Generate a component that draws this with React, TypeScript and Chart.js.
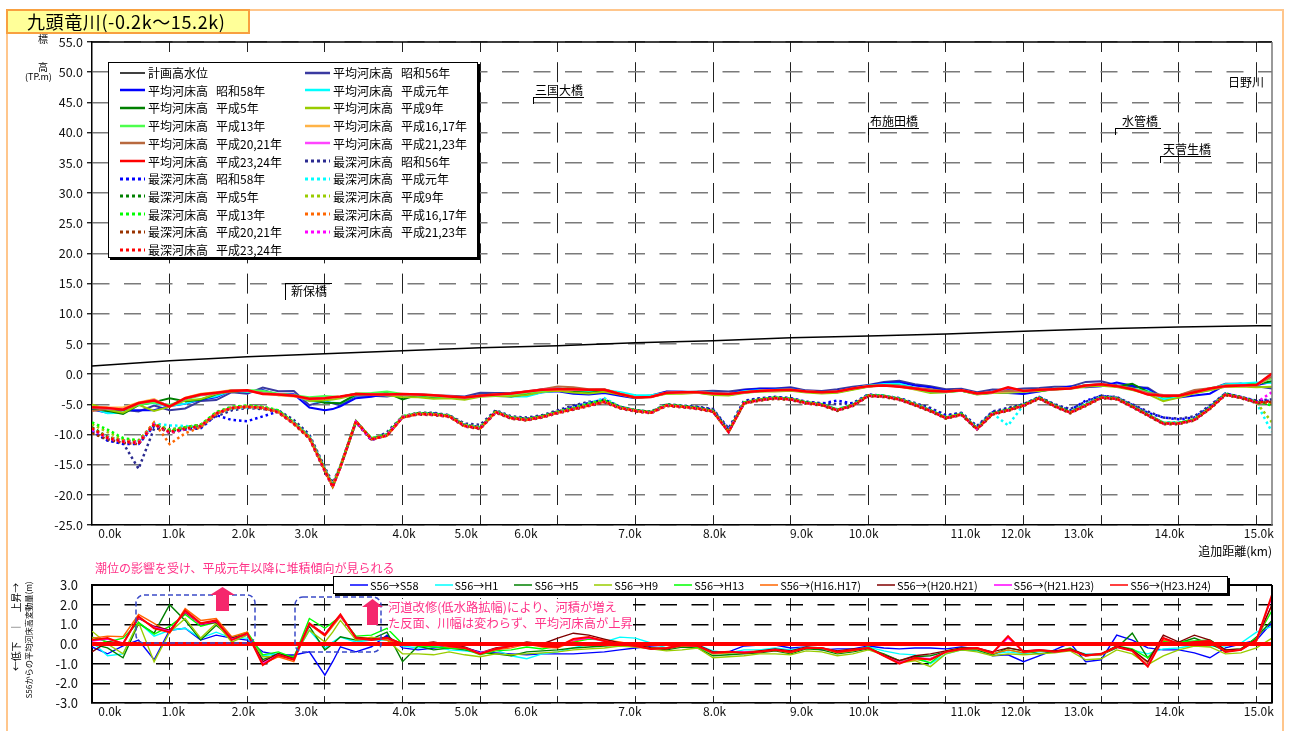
import React, { useEffect, useRef } from 'react';
import { Chart, registerables } from 'chart.js';
Chart.register(...registerables);

const FONT = '"Noto Sans CJK JP", "Noto Sans", sans-serif';

// ---- cross-section positions (追加距離, km) ----
const sectionKm = [
  0, 0.2, 0.4, 0.6, 0.8, 1.0, 1.2, 1.4, 1.6, 1.8,
  2.0, 2.2, 2.4, 2.6, 2.8, 3.0, 3.1, 3.2, 3.4, 3.6, 3.8,
  4.0, 4.2, 4.4, 4.6, 4.8, 5.0, 5.2, 5.4, 5.6, 5.8,
  6.0, 6.2, 6.4, 6.6, 6.8, 7.0, 7.2, 7.4, 7.6, 7.8,
  8.0, 8.2, 8.4, 8.6, 8.8, 9.0, 9.2, 9.4, 9.6, 9.8,
  10.0, 10.2, 10.4, 10.6, 10.8, 11.0, 11.2, 11.4, 11.6, 11.8,
  12.0, 12.2, 12.4, 12.6, 12.8, 13.0, 13.2, 13.4, 13.6, 13.8,
  14.0, 14.2, 14.4, 14.6, 14.8, 15.0, 15.2,
];

// distance-marker tick labels
const kmTickPos = [0.23, 1.05, 1.95, 2.76, 4.02, 4.82, 5.59, 6.93, 8.02, 9.14, 9.94, 11.25, 11.9, 12.71, 13.88, 15.03];
const kmTickLabels = ['0.0k', '1.0k', '2.0k', '3.0k', '4.0k', '5.0k', '6.0k', '7.0k', '8.0k', '9.0k', '10.0k', '11.0k', '12.0k', '13.0k', '14.0k', '15.0k'];
const gridKm = [1, 2, 3, 4, 5, 6, 7, 8, 9, 10, 11, 12, 13, 14, 15];

// 計画高水位
const planKm = [0, 1, 2, 3, 4, 5, 6, 7, 8, 9, 10, 11, 12, 13, 14, 15, 15.2];
const planLevel = [1.35, 2.2, 2.85, 3.35, 3.85, 4.35, 4.7, 5.2, 5.5, 6.0, 6.3, 6.65, 7.1, 7.5, 7.8, 8.0, 8.0];

// ---- 平均河床高 ----
const avgS56 = [
  -5.7, -5.9, -5.9, -6.2, -5.2, -6.0, -5.7, -4.45, -4.3, -3.0,
  -3.25, -2.23, -2.84, -2.8, -5.15, -4.45, -4.85, -5.2, -3.6, -3.6, -3.7,
  -3.3, -3.35, -3.55, -3.6, -3.7, -3.1, -3.15, -3.1, -2.95, -2.5,
  -2.35, -2.75, -2.95, -2.75, -3.3, -3.8, -3.55, -2.9, -2.95, -2.9,
  -2.75, -2.9, -2.55, -2.4, -2.4, -2.2, -2.7, -2.8, -2.5, -2.1,
  -1.8, -1.3, -1.1, -1.7, -2.0, -2.5, -2.45, -3.0, -2.55, -2.6,
  -2.4, -2.3, -2.1, -2.1, -1.3, -1.2, -1.85, -2.15, -2.25, -3.9,
  -3.6, -3.1, -2.55, -1.6, -1.6, -2.0, -2.4,
];
const avgS58 = [
  -5.85, -6.4, -6.0, -6.0, -6.0, -5.3, -4.9, -4.25, -3.85, -2.7,
  -3.05, -2.63, -3.4, -3.36, -5.55, -6.0, -5.8, -5.34, -4.0, -3.74, -3.25,
  -3.5, -3.65, -3.75, -3.7, -3.9, -3.5, -3.6, -3.6, -3.5, -3.0,
  -2.85, -3.25, -3.4, -3.15, -3.6, -4.0, -3.65, -2.95, -2.95, -3.05,
  -3.15, -3.3, -2.65, -2.45, -2.45, -2.4, -2.85, -3.1, -2.75, -2.35,
  -1.9, -1.5, -1.35, -1.9, -2.2, -2.75, -2.6, -3.25, -3.15, -3.15,
  -3.3, -2.9, -2.4, -2.05, -2.2, -2.0, -1.4, -1.95, -2.45, -4.2,
  -3.9, -3.55, -3.25, -1.8, -1.6, -1.8, -1.3,
];
const avgH1 = [
  -5.6, -6.5, -6.4, -5.1, -4.8, -5.3, -4.9, -4.15, -3.7, -2.7,
  -2.95, -2.83, -3.34, -3.5, -4.45, -4.65, -4.75, -4.85, -3.5, -3.4, -3.5,
  -3.4, -3.55, -3.65, -3.9, -4.05, -3.55, -3.45, -3.7, -3.7, -3.0,
  -2.75, -2.95, -2.95, -2.65, -2.95, -3.5, -3.5, -3.1, -3.05, -2.95,
  -3.1, -3.35, -2.85, -2.7, -2.6, -2.5, -2.85, -3.05, -2.85, -2.4,
  -1.95, -1.65, -1.6, -2.25, -3.0, -3.0, -2.75, -3.35, -3.05, -3.0,
  -2.9, -2.7, -2.45, -2.4, -1.8, -1.75, -2.0, -2.45, -2.75, -4.15,
  -3.8, -3.15, -2.65, -1.7, -1.55, -1.4, -1.5,
];
const avgH5 = [
  -5.7, -6.1, -6.6, -5.15, -4.65, -4.0, -4.5, -4.25, -3.35, -2.7,
  -2.8, -3.03, -3.34, -3.45, -4.25, -4.75, -4.8, -4.83, -3.4, -3.35, -3.1,
  -4.2, -3.45, -3.85, -3.8, -4.0, -3.55, -3.65, -3.7, -3.35, -2.85,
  -2.65, -2.95, -3.1, -2.85, -3.35, -3.9, -3.75, -3.2, -3.1, -3.1,
  -3.35, -3.45, -3.05, -2.85, -2.75, -2.7, -2.95, -3.1, -3.0, -2.5,
  -2.05, -1.8, -1.95, -2.35, -2.6, -2.9, -2.75, -3.3, -3.1, -2.8,
  -2.75, -2.8, -2.5, -2.4, -1.85, -1.75, -2.05, -1.6, -2.95, -3.8,
  -3.55, -2.8, -2.55, -1.95, -1.9, -1.65, -1.2,
];
const avgH9 = [
  -5.05, -5.9, -6.4, -5.1, -6.1, -5.4, -4.4, -4.15, -3.25, -2.9,
  -2.8, -2.88, -3.49, -3.45, -4.45, -4.35, -4.2, -4.0, -3.4, -3.25, -3.5,
  -3.8, -3.85, -4.1, -4.0, -4.25, -3.75, -3.65, -3.65, -3.45, -2.95,
  -2.75, -3.05, -3.2, -2.95, -3.4, -3.95, -3.8, -3.25, -3.25, -3.1,
  -3.45, -3.55, -3.15, -2.9, -2.9, -2.75, -3.05, -3.2, -3.1, -2.6,
  -2.1, -1.85, -2.05, -2.55, -3.15, -3.0, -2.75, -3.4, -3.15, -3.1,
  -2.95, -2.8, -2.55, -2.45, -2.1, -1.95, -2.15, -2.65, -3.3, -4.5,
  -3.9, -3.2, -2.7, -2.1, -2.05, -2.2, -2.1,
];
const avgH13 = [
  -5.35, -5.8, -5.6, -5.1, -4.7, -5.1, -4.2, -3.55, -3.2, -2.7,
  -2.65, -2.78, -3.24, -3.5, -3.85, -3.65, -3.7, -3.8, -3.2, -3.15, -2.9,
  -3.3, -3.45, -3.7, -3.8, -3.95, -3.65, -3.5, -3.4, -3.1, -2.75,
  -2.45, -2.65, -2.7, -2.55, -3.25, -3.85, -3.75, -3.1, -3.0, -3.05,
  -3.25, -3.35, -3.0, -2.8, -2.7, -2.65, -2.9, -3.0, -2.95, -2.45,
  -1.95, -1.85, -1.95, -2.45, -2.95, -2.85, -2.65, -3.25, -3.05, -2.9,
  -2.85, -2.65, -2.5, -2.3, -1.9, -1.7, -1.95, -2.4, -2.95, -3.75,
  -3.5, -2.95, -2.35, -1.9, -1.85, -1.7, -0.7,
];
const avgH16 = [
  -5.4, -5.5, -5.53, -4.7, -4.15, -5.45, -3.9, -3.25, -3.0, -2.63,
  -2.65, -3.23, -3.49, -3.7, -4.15, -4.05, -3.9, -3.8, -3.25, -3.3, -3.5,
  -3.35, -3.4, -3.55, -3.75, -3.9, -3.6, -3.45, -3.3, -2.95, -2.65,
  -2.55, -2.6, -2.65, -2.55, -3.2, -3.85, -3.75, -3.15, -3.05, -3.0,
  -3.25, -3.35, -2.95, -2.75, -2.7, -2.65, -2.9, -3.0, -2.95, -2.45,
  -2.0, -1.9, -2.0, -2.5, -2.75, -2.9, -2.7, -3.25, -3.05, -2.9,
  -2.85, -2.65, -2.45, -2.35, -1.85, -1.75, -2.0, -2.45, -3.2, -3.7,
  -3.55, -3.05, -2.45, -1.95, -1.9, -1.85, -0.4,
];
const avgH20 = [
  -6.1, -5.8, -5.85, -4.9, -4.3, -5.3, -4.1, -3.45, -3.2, -2.7,
  -2.75, -3.13, -3.34, -3.55, -4.15, -3.95, -3.85, -3.75, -3.25, -3.35, -3.35,
  -3.3, -3.35, -3.45, -3.65, -3.85, -3.55, -3.35, -3.2, -2.85, -2.5,
  -2.05, -2.2, -2.5, -2.5, -3.25, -3.85, -3.75, -3.15, -3.0, -2.95,
  -3.15, -3.3, -3.0, -2.75, -2.65, -2.55, -2.85, -3.0, -2.85, -2.35,
  -2.0, -1.85, -1.95, -2.3, -2.5, -2.85, -2.65, -3.2, -2.95, -2.8,
  -2.75, -2.6, -2.45, -2.35, -1.85, -1.7, -1.95, -2.45, -3.15, -3.45,
  -3.5, -2.65, -2.35, -1.9, -1.85, -1.75, -0.4,
];
const avgH21 = [
  -5.55, -5.65, -5.85, -4.85, -4.35, -5.35, -4.05, -3.45, -3.15, -2.75,
  -2.75, -3.23, -3.39, -3.6, -4.15, -3.95, -3.85, -3.75, -3.3, -3.4, -3.4,
  -3.3, -3.4, -3.5, -3.7, -3.9, -3.65, -3.4, -3.2, -2.9, -2.6,
  -2.45, -2.55, -2.65, -2.6, -3.3, -3.9, -3.8, -3.1, -3.0, -3.0,
  -3.2, -3.3, -3.05, -2.8, -2.7, -2.6, -2.9, -3.0, -2.9, -2.4,
  -2.0, -1.9, -2.05, -2.4, -2.75, -2.9, -2.7, -3.2, -3.0, -2.3,
  -2.8, -2.6, -2.5, -2.4, -1.9, -1.7, -2.0, -2.5, -3.35, -3.6,
  -3.6, -3.0, -2.4, -2.0, -1.9, -1.8, 0.0,
];
const avgH23 = [
  -5.5, -5.6, -5.9, -4.8, -4.4, -5.4, -4.0, -3.4, -3.1, -2.8,
  -2.7, -3.3, -3.4, -3.6, -4.1, -4.0, -3.85, -3.7, -3.3, -3.4, -3.4,
  -3.3, -3.4, -3.5, -3.7, -3.9, -3.6, -3.4, -3.2, -2.9, -2.6,
  -2.5, -2.5, -2.6, -2.6, -3.3, -3.9, -3.8, -3.1, -3.0, -3.0,
  -3.2, -3.3, -3.0, -2.8, -2.7, -2.6, -2.9, -3.0, -2.9, -2.4,
  -2.0, -1.9, -2.1, -2.4, -2.8, -2.9, -2.7, -3.2, -3.0, -2.2,
  -2.8, -2.6, -2.5, -2.4, -1.9, -1.7, -2.0, -2.5, -3.4, -3.6,
  -3.6, -3.0, -2.4, -2.0, -1.9, -1.8, 0.1,
];

// ---- 最深河床高 ----
const deepS56 = [
  -9.6, -11.0, -11.4, -15.7, -9.0, -9.2, -8.8, -8.4, -7.0, -6.0,
  -5.6, -5.8, -6.0, -7.6, -10.0, -15.5, -18.0, -15.2, -8.0, -11.0, -9.6,
  -7.0, -6.4, -6.4, -6.8, -8.2, -8.4, -6.0, -7.0, -7.2, -6.8,
  -6.0, -5.2, -4.6, -4.4, -5.4, -6.0, -6.2, -5.0, -5.2, -5.4,
  -5.8, -9.0, -4.4, -4.0, -3.8, -4.0, -4.6, -4.8, -5.0, -4.8,
  -3.4, -3.6, -4.0, -4.8, -5.6, -6.8, -6.4, -8.6, -6.2, -5.6,
  -5.0, -3.8, -5.0, -5.8, -4.6, -3.6, -3.8, -5.0, -6.2, -7.2,
  -7.4, -7.0, -5.2, -3.2, -3.8, -4.4, -4.2,
];
const deepS58 = [
  -9.4, -11.0, -11.6, -11.6, -8.6, -9.4, -9.2, -9.0, -6.8, -7.6,
  -7.8, -7.0, -6.2, -8.0, -10.4, -15.8, -18.4, -15.2, -7.8, -10.8, -10.0,
  -7.2, -6.5, -6.5, -6.9, -8.4, -8.8, -6.2, -7.2, -7.4, -7.0,
  -6.2, -5.4, -4.8, -4.2, -5.4, -6.0, -6.3, -5.1, -5.3, -5.5,
  -5.9, -9.2, -4.5, -4.1, -3.8, -4.0, -4.6, -4.9, -4.4, -4.9,
  -3.4, -3.6, -4.0, -4.9, -5.8, -6.9, -6.5, -8.8, -6.3, -5.8,
  -5.0, -3.8, -5.1, -6.0, -4.4, -3.6, -3.9, -5.1, -6.4, -7.2,
  -7.5, -7.2, -5.4, -3.2, -3.8, -4.5, -4.4,
];
const deepH1 = [
  -9.2, -10.4, -11.0, -11.2, -8.2, -8.5, -8.6, -8.8, -6.6, -5.7,
  -5.5, -5.6, -6.2, -8.0, -10.4, -15.8, -18.5, -15.3, -7.9, -10.6, -10.0,
  -7.1, -6.6, -6.6, -6.9, -8.5, -8.9, -6.2, -7.2, -7.5, -7.0,
  -6.3, -5.6, -4.8, -4.0, -5.4, -6.0, -6.3, -5.1, -5.3, -5.6,
  -6.1, -9.4, -4.7, -4.2, -3.9, -4.1, -4.7, -5.0, -5.8, -5.1,
  -3.5, -3.6, -4.1, -5.0, -6.0, -7.2, -6.6, -8.9, -6.5, -8.5,
  -5.1, -3.9, -5.2, -6.3, -5.0, -3.8, -4.0, -5.3, -6.7, -8.0,
  -8.0, -7.5, -5.6, -3.3, -3.9, -4.8, -9.6,
];
const deepH5 = [
  -8.8, -10.4, -11.0, -11.2, -8.4, -9.4, -8.9, -8.5, -6.4, -5.5,
  -5.3, -5.5, -6.2, -8.1, -10.5, -15.9, -18.6, -15.4, -7.9, -10.7, -10.1,
  -7.1, -6.5, -6.6, -6.9, -8.5, -8.9, -6.2, -7.2, -7.5, -7.0,
  -6.3, -5.7, -5.0, -4.4, -5.5, -6.0, -6.3, -5.1, -5.3, -5.6,
  -6.1, -9.5, -4.7, -4.2, -3.9, -4.1, -4.7, -5.0, -5.9, -5.1,
  -3.5, -3.6, -4.1, -5.0, -6.0, -7.2, -6.6, -9.0, -6.5, -5.9,
  -5.1, -3.9, -5.2, -6.3, -5.1, -3.8, -4.0, -5.3, -6.7, -8.1,
  -8.1, -7.5, -5.6, -3.3, -3.8, -4.6, -5.0,
];
const deepH9 = [
  -8.3, -9.6, -10.8, -11.0, -8.2, -9.2, -8.8, -8.4, -6.4, -5.5,
  -5.3, -5.5, -6.1, -8.0, -10.4, -15.8, -18.4, -15.2, -7.8, -10.6, -10.0,
  -7.0, -6.5, -6.6, -6.9, -8.4, -8.8, -6.2, -7.2, -7.4, -7.0,
  -6.2, -5.6, -4.9, -4.3, -5.4, -6.0, -6.3, -5.1, -5.3, -5.6,
  -6.1, -9.5, -4.7, -4.2, -3.9, -4.1, -4.7, -5.0, -5.9, -5.1,
  -3.5, -3.7, -4.1, -5.0, -6.1, -7.2, -6.6, -9.0, -6.5, -5.9,
  -5.1, -4.0, -5.2, -6.3, -5.1, -3.9, -4.0, -5.3, -6.7, -8.1,
  -8.1, -7.5, -5.6, -3.4, -3.9, -4.7, -8.0,
];
const deepH13 = [
  -8.0, -9.2, -10.6, -11.0, -8.2, -9.4, -8.8, -8.4, -6.3, -5.4,
  -5.2, -5.4, -6.0, -8.0, -10.4, -15.8, -18.5, -15.3, -7.8, -10.7, -10.0,
  -7.0, -6.5, -6.6, -6.9, -8.5, -8.9, -6.2, -7.2, -7.5, -7.0,
  -6.3, -5.7, -5.0, -4.4, -5.5, -6.0, -6.3, -5.1, -5.3, -5.6,
  -6.1, -9.5, -4.7, -4.2, -3.9, -4.1, -4.7, -5.0, -5.9, -5.1,
  -3.5, -3.6, -4.1, -5.0, -6.0, -7.2, -6.6, -9.0, -6.5, -5.9,
  -5.1, -3.9, -5.2, -6.3, -5.1, -3.8, -4.0, -5.3, -6.7, -8.1,
  -8.1, -7.5, -5.6, -3.3, -3.9, -4.6, -5.2,
];
const deepH16 = [
  -9.0, -10.4, -11.0, -11.2, -8.0, -11.6, -9.8, -8.8, -6.6, -5.6,
  -5.4, -5.6, -6.3, -8.2, -10.6, -16.0, -18.6, -15.4, -7.8, -10.8, -10.2,
  -7.2, -6.6, -6.7, -7.0, -8.6, -9.0, -6.3, -7.3, -7.6, -7.1,
  -6.4, -5.8, -5.2, -4.6, -5.6, -6.1, -6.4, -5.2, -5.4, -5.7,
  -6.2, -9.6, -4.8, -4.3, -4.0, -4.2, -4.8, -5.1, -6.0, -5.2,
  -3.6, -3.7, -4.2, -5.1, -6.1, -7.3, -6.7, -9.1, -6.6, -6.0,
  -5.2, -4.0, -5.3, -6.4, -5.2, -3.9, -4.1, -5.4, -6.8, -8.2,
  -8.2, -7.6, -5.7, -3.4, -3.9, -4.7, -4.8,
];
const deepH20 = [
  -9.8, -10.8, -11.4, -11.6, -8.4, -9.8, -9.2, -8.8, -6.6, -5.7,
  -5.5, -5.7, -6.4, -8.3, -10.7, -16.2, -18.7, -15.5, -7.9, -10.9, -10.2,
  -7.2, -6.7, -6.8, -7.1, -8.7, -9.1, -6.4, -7.4, -7.7, -7.2,
  -6.5, -5.9, -5.3, -4.7, -5.7, -6.2, -6.5, -5.3, -5.5, -5.8,
  -6.3, -9.6, -4.9, -4.4, -4.1, -4.3, -4.9, -5.2, -6.1, -5.3,
  -3.7, -3.8, -4.3, -5.2, -6.2, -7.4, -6.8, -9.2, -6.7, -6.1,
  -5.3, -4.1, -5.4, -6.5, -5.3, -4.0, -4.2, -5.5, -6.9, -8.3,
  -8.3, -7.7, -5.8, -3.5, -4.0, -4.8, -4.6,
];
const deepH21 = [
  -9.2, -10.6, -11.2, -11.4, -8.3, -9.7, -9.1, -8.6, -6.5, -5.6,
  -5.4, -5.6, -6.3, -8.2, -10.6, -16.1, -18.7, -15.4, -7.9, -10.9, -10.1,
  -7.1, -6.6, -6.7, -7.0, -8.6, -9.0, -6.3, -7.3, -7.6, -7.1,
  -6.4, -5.8, -5.2, -4.6, -5.6, -6.1, -6.4, -5.2, -5.4, -5.7,
  -6.2, -9.6, -4.8, -4.3, -4.0, -4.2, -4.8, -5.1, -6.0, -5.2,
  -3.6, -3.7, -4.2, -5.1, -6.1, -7.3, -6.7, -9.1, -6.6, -6.0,
  -5.2, -4.0, -5.3, -6.4, -5.2, -3.9, -4.1, -5.4, -6.8, -8.2,
  -8.2, -7.6, -5.7, -3.4, -3.9, -4.7, -3.0,
];
const deepH23 = [
  -9.0, -10.6, -11.2, -11.4, -8.3, -9.6, -9.0, -8.6, -6.5, -5.6,
  -5.4, -5.6, -6.3, -8.2, -10.6, -16.0, -18.7, -15.4, -7.8, -10.8, -10.2,
  -7.2, -6.6, -6.7, -7.0, -8.6, -9.0, -6.3, -7.3, -7.6, -7.1,
  -6.4, -5.8, -5.2, -4.6, -5.6, -6.1, -6.4, -5.2, -5.4, -5.7,
  -6.2, -9.6, -4.8, -4.3, -4.0, -4.2, -4.8, -5.1, -6.0, -5.2,
  -3.6, -3.7, -4.2, -5.1, -6.1, -7.3, -6.7, -9.1, -6.6, -6.0,
  -5.2, -4.0, -5.3, -6.4, -5.2, -3.9, -4.1, -5.4, -6.8, -8.2,
  -8.2, -7.6, -5.7, -3.4, -3.9, -4.7, -4.5,
];

// ---- S56からの平均河床高変動量 ----
const dS58 = [
  -0.15, -0.5, -0.1, 0.2, -0.8, 0.7, 0.8, 0.2, 0.45, 0.3,
  0.2, -0.4, -0.56, -0.56, -0.4, -1.58, -0.9, -0.14, -0.4, -0.14, 0.45,
  -0.2, -0.3, -0.2, -0.1, -0.2, -0.4, -0.45, -0.5, -0.55, -0.5,
  -0.5, -0.5, -0.45, -0.4, -0.3, -0.2, -0.1, -0.05, 0.0, -0.15,
  -0.4, -0.4, -0.1, -0.05, -0.05, -0.2, -0.15, -0.3, -0.25, -0.25,
  -0.1, -0.2, -0.25, -0.2, -0.2, -0.25, -0.15, -0.25, -0.6, -0.55,
  -0.9, -0.6, -0.3, 0.05, -0.9, -0.8, 0.45, 0.2, -0.2, -0.3,
  -0.3, -0.45, -0.7, -0.2, 0.0, 0.2, 1.1,
];
const dH1 = [
  0.1, -0.6, -0.5, 1.1, 0.4, 0.7, 0.8, 0.3, 0.6, 0.3,
  0.3, -0.6, -0.5, -0.7, 0.7, -0.2, 0.1, 0.35, 0.1, 0.2, 0.2,
  -0.1, -0.2, -0.1, -0.3, -0.35, -0.45, -0.3, -0.6, -0.75, -0.5,
  -0.4, -0.2, 0.0, 0.1, 0.35, 0.3, 0.05, -0.2, -0.1, -0.05,
  -0.35, -0.45, -0.3, -0.3, -0.2, -0.3, -0.15, -0.25, -0.35, -0.3,
  -0.15, -0.35, -0.5, -0.55, -1.0, -0.5, -0.3, -0.35, -0.5, -0.4,
  -0.5, -0.4, -0.35, -0.3, -0.5, -0.55, -0.15, -0.3, -0.5, -0.25,
  -0.2, -0.05, -0.1, -0.1, 0.05, 0.6, 0.9,
];
const dH5 = [
  0.0, -0.2, -0.7, 1.05, 0.55, 2.0, 1.2, 0.2, 0.95, 0.3,
  0.45, -0.8, -0.5, -0.65, 0.9, -0.3, 0.0, 0.37, 0.2, 0.25, 0.6,
  -0.9, -0.1, -0.3, -0.2, -0.3, -0.45, -0.5, -0.6, -0.4, -0.35,
  -0.3, -0.2, -0.15, -0.1, -0.05, -0.1, -0.2, -0.3, -0.15, -0.2,
  -0.6, -0.55, -0.5, -0.45, -0.35, -0.5, -0.25, -0.3, -0.5, -0.4,
  -0.25, -0.5, -0.85, -0.65, -0.6, -0.4, -0.3, -0.3, -0.55, -0.2,
  -0.35, -0.5, -0.4, -0.3, -0.55, -0.55, -0.2, 0.55, -0.7, 0.1,
  0.05, 0.3, 0.0, -0.35, -0.3, 0.35, 1.2,
];
const dH9 = [
  0.65, 0.0, -0.5, 1.1, -0.9, 0.6, 1.3, 0.3, 1.05, 0.1,
  0.45, -0.65, -0.65, -0.65, 0.7, 0.1, 0.6, 1.2, 0.2, 0.35, 0.2,
  -0.5, -0.5, -0.55, -0.4, -0.55, -0.65, -0.5, -0.55, -0.5, -0.45,
  -0.4, -0.3, -0.25, -0.2, -0.1, -0.15, -0.25, -0.35, -0.3, -0.2,
  -0.7, -0.65, -0.6, -0.5, -0.5, -0.55, -0.35, -0.4, -0.6, -0.5,
  -0.3, -0.55, -0.95, -0.85, -1.15, -0.5, -0.3, -0.4, -0.6, -0.5,
  -0.55, -0.5, -0.45, -0.35, -0.8, -0.75, -0.3, -0.5, -1.05, -0.6,
  -0.3, -0.1, -0.15, -0.5, -0.45, -0.2, 0.3,
];
const dH13 = [
  0.35, 0.1, 0.3, 1.1, 0.5, 0.9, 1.5, 0.9, 1.1, 0.3,
  0.6, -0.55, -0.4, -0.7, 1.3, 0.8, 1.1, 1.4, 0.4, 0.45, 0.8,
  0.0, -0.1, -0.15, -0.2, -0.25, -0.55, -0.35, -0.3, -0.15, -0.25,
  -0.1, 0.1, 0.25, 0.2, 0.05, -0.05, -0.2, -0.2, -0.05, -0.15,
  -0.5, -0.45, -0.45, -0.4, -0.3, -0.45, -0.2, -0.2, -0.45, -0.35,
  -0.15, -0.55, -0.85, -0.75, -0.95, -0.35, -0.2, -0.25, -0.5, -0.3,
  -0.45, -0.35, -0.4, -0.2, -0.6, -0.5, -0.1, -0.25, -0.7, 0.15,
  0.1, 0.15, 0.2, -0.3, -0.25, 0.3, 1.7,
];
const dH16 = [
  0.3, 0.4, 0.37, 1.5, 1.05, 0.55, 1.8, 1.2, 1.3, 0.37,
  0.6, -1.0, -0.65, -0.9, 1.0, 0.4, 0.9, 1.4, 0.35, 0.3, 0.2,
  -0.05, -0.05, 0.0, -0.15, -0.2, -0.5, -0.3, -0.2, 0.0, -0.15,
  -0.2, 0.15, 0.3, 0.2, 0.1, -0.05, -0.2, -0.25, -0.1, -0.1,
  -0.5, -0.45, -0.4, -0.35, -0.3, -0.45, -0.2, -0.2, -0.45, -0.35,
  -0.2, -0.6, -0.9, -0.8, -0.75, -0.4, -0.25, -0.25, -0.5, -0.3,
  -0.45, -0.35, -0.35, -0.25, -0.55, -0.55, -0.15, -0.3, -0.95, 0.2,
  0.05, 0.05, 0.1, -0.35, -0.3, 0.15, 2.0,
];
const dH20 = [
  -0.4, 0.1, 0.05, 1.3, 0.9, 0.7, 1.6, 1.0, 1.1, 0.3,
  0.5, -0.9, -0.5, -0.75, 1.0, 0.5, 1.0, 1.45, 0.35, 0.25, 0.35,
  0.0, 0.0, 0.1, -0.05, -0.15, -0.45, -0.2, -0.1, 0.1, 0.0,
  0.3, 0.55, 0.45, 0.25, 0.05, -0.05, -0.2, -0.25, -0.05, -0.05,
  -0.4, -0.4, -0.45, -0.35, -0.25, -0.35, -0.15, -0.2, -0.35, -0.25,
  -0.2, -0.55, -0.85, -0.6, -0.5, -0.35, -0.2, -0.2, -0.4, -0.2,
  -0.35, -0.3, -0.35, -0.25, -0.55, -0.5, -0.1, -0.3, -0.9, 0.45,
  0.1, 0.45, 0.2, -0.3, -0.25, 0.25, 2.0,
];
const dH21 = [
  0.15, 0.25, 0.05, 1.35, 0.85, 0.65, 1.65, 1.0, 1.15, 0.25,
  0.5, -1.0, -0.55, -0.8, 1.0, 0.5, 1.0, 1.45, 0.3, 0.2, 0.3,
  0.0, -0.05, 0.05, -0.1, -0.2, -0.45, -0.25, -0.1, 0.05, -0.1,
  -0.1, 0.2, 0.3, 0.15, 0.0, -0.1, -0.25, -0.2, -0.05, -0.1,
  -0.45, -0.4, -0.4, -0.4, -0.3, -0.4, -0.2, -0.2, -0.4, -0.3,
  -0.2, -0.6, -0.95, -0.7, -0.75, -0.4, -0.25, -0.2, -0.45, 0.3,
  -0.4, -0.3, -0.4, -0.3, -0.6, -0.5, -0.15, -0.35, -1.1, 0.3,
  0.0, 0.1, 0.15, -0.4, -0.3, 0.2, 2.4,
];
const dH23 = [
  0.2, 0.3, 0.0, 1.4, 0.8, 0.6, 1.7, 1.05, 1.2, 0.2,
  0.55, -1.07, -0.56, -0.8, 1.05, 0.45, 1.0, 1.5, 0.3, 0.2, 0.3,
  0.0, -0.05, 0.05, -0.1, -0.2, -0.5, -0.25, -0.1, 0.05, -0.1,
  -0.15, 0.25, 0.35, 0.15, 0.0, -0.1, -0.25, -0.2, -0.05, -0.1,
  -0.45, -0.4, -0.45, -0.4, -0.3, -0.4, -0.2, -0.2, -0.4, -0.3,
  -0.2, -0.6, -1.0, -0.7, -0.8, -0.4, -0.25, -0.2, -0.45, 0.4,
  -0.4, -0.3, -0.4, -0.3, -0.6, -0.5, -0.15, -0.35, -1.15, 0.3,
  0.0, 0.1, 0.15, -0.4, -0.3, 0.2, 2.5,
];
const zeroKm = [0, 15.2];
const zeroLevel = [0, 0];

// ---- series names & colours ----
const yearNames = ['昭和56年', '昭和58年', '平成元年', '平成5年', '平成9年', '平成13年', '平成16,17年', '平成20,21年', '平成21,23年', '平成23,24年'];
const avgSeries = [avgS56, avgS58, avgH1, avgH5, avgH9, avgH13, avgH16, avgH20, avgH21, avgH23];
const deepSeries = [deepS56, deepS58, deepH1, deepH5, deepH9, deepH13, deepH16, deepH20, deepH21, deepH23];
const avgColors = ['#3a3aa0', '#0000ff', '#00ffff', '#008000', '#99cc00', '#4dff4d', '#ffb347', '#b8693f', '#ff44ff', '#ff0000'];
const deepColors = ['#2a2a90', '#0000ff', '#00ffff', '#008000', '#99cc00', '#00ff00', '#ff6600', '#993300', '#ff00ff', '#ff0000'];
const diffSeries = [dS58, dH1, dH5, dH9, dH13, dH16, dH20, dH21, dH23];
const diffNames = ['S56→S58', 'S56→H1', 'S56→H5', 'S56→H9', 'S56→H13', 'S56→(H16.H17)', 'S56→(H20.H21)', 'S56→(H21.H23)', 'S56→(H23.H24)'];
const diffColors = ['#0000ff', '#00ffff', '#008000', '#99cc00', '#00ff00', '#ff6600', '#800000', '#ff00ff', '#ff0000'];

type LegendItem = { a: string; b: string; color: string; kind: 'plan' | 'avg' | 'deep' };
const topLegend: LegendItem[] = [
  { a: '計画高水位', b: '', color: '#000', kind: 'plan' },
  ...yearNames.map((y, k) => ({ a: '平均河床高', b: y, color: avgColors[k], kind: 'avg' as const })),
  ...yearNames.map((y, k) => ({ a: '最深河床高', b: y, color: deepColors[k], kind: 'deep' as const })),
];

const pts = (ys: number[]) => sectionKm.map((x, i) => ({ x, y: ys[i] }));

const framePlugin = {
  id: 'frame',
  afterDraw(chart: any, _a: any, opts: any) {
    const { ctx, chartArea } = chart;
    const { left, right, top, bottom } = chartArea;
    ctx.save();
    ctx.setLineDash([]);
    ctx.lineWidth = opts.width;
    ctx.strokeStyle = opts.topColor;
    ctx.beginPath();
    ctx.moveTo(left, top);
    ctx.lineTo(right, top);
    ctx.stroke();
    ctx.strokeStyle = opts.rightColor;
    ctx.beginPath();
    ctx.moveTo(right, top);
    ctx.lineTo(right, bottom);
    ctx.stroke();
    ctx.restore();
  },
};

function xAxes(labelHeight: number, vDash: number[], vOffset: number) {
  return {
    xg: {
      type: 'linear', position: 'top', min: 0, max: 15.2,
      afterBuildTicks: (s: any) => { s.ticks = gridKm.map((value) => ({ value })); },
      afterFit: (s: any) => { s.height = 0; },
      ticks: { display: false },
      grid: { display: true, drawOnChartArea: true, drawTicks: false, color: '#222', lineWidth: 1 },
      border: { display: false, dash: vDash, dashOffset: vOffset },
    },
    x: {
      type: 'linear', position: 'bottom', min: 0, max: 15.2,
      afterBuildTicks: (s: any) => { s.ticks = kmTickPos.map((value) => ({ value })); },
      afterFit: (s: any) => { s.height = labelHeight; },
      ticks: {
        autoSkip: false, maxRotation: 0, minRotation: 0, padding: 1,
        callback: (_v: any, i: number) => kmTickLabels[i] ?? '',
        font: { family: FONT, size: 12 }, color: '#111',
      },
      grid: { display: false, drawTicks: false },
      border: { display: true, color: '#000', width: 1.5 },
    },
  };
}

export default function App() {
  const topRef = useRef<HTMLCanvasElement>(null);
  const botRef = useRef<HTMLCanvasElement>(null);

  useEffect(() => {
    const topDatasets: any[] = [
      {
        label: '計画高水位', data: planKm.map((x, i) => ({ x, y: planLevel[i] })),
        borderColor: '#000', borderWidth: 1.5, order: 0,
      },
      ...avgSeries.map((v, k) => ({
        label: '平均河床高 ' + yearNames[k], data: pts(v), borderColor: avgColors[k],
        borderWidth: k === 9 ? 2.5 : 2, order: -(1 + k),
      })),
      ...deepSeries.map((v, k) => ({
        label: '最深河床高 ' + yearNames[k], data: pts(v), borderColor: deepColors[k],
        borderWidth: 2.5, borderDash: [2.5, 3], order: -(11 + k),
      })),
    ];
    const top = new Chart(topRef.current!, {
      type: 'line',
      data: { datasets: topDatasets },
      plugins: [framePlugin],
      options: {
        animation: false, responsive: false, events: [],
        layout: { padding: { left: 0, right: 20, top: 12, bottom: 0 } },
        elements: { point: { radius: 0 }, line: { tension: 0, fill: false } },
        plugins: {
          legend: { display: false }, tooltip: { enabled: false },
          frame: { width: 1.5, topColor: '#000', rightColor: '#777' },
        } as any,
        scales: {
          ...xAxes(25, [20, 10.2], 10),
          y: {
            type: 'linear', min: -25, max: 55,
            afterFit: (s: any) => { s.width = 92; },
            ticks: {
              stepSize: 5, padding: 4, autoSkip: false, callback: (v: any) => Number(v).toFixed(1),
              font: { family: FONT, size: 12.5 }, color: '#111',
            },
            grid: { color: '#7a7a7a', lineWidth: 1.5, drawTicks: true, tickLength: 5, tickColor: '#000', tickWidth: 1.2 },
            border: { display: true, color: '#000', width: 1.5, dash: [17, 14.5] },
          },
        } as any,
      },
    });

    const botDatasets: any[] = [
      ...diffSeries.map((v, k) => ({
        label: diffNames[k], data: pts(v), borderColor: diffColors[k],
        borderWidth: k === 8 ? 2 : 1.4, order: -(1 + k),
      })),
      {
        label: 'zero', data: zeroKm.map((x, i) => ({ x, y: zeroLevel[i] })),
        borderColor: '#ff0000', borderWidth: 4, order: -100,
      },
    ];
    const bot = new Chart(botRef.current!, {
      type: 'line',
      data: { datasets: botDatasets },
      plugins: [framePlugin],
      options: {
        animation: false, responsive: false, events: [],
        layout: { padding: { left: 0, right: 20, top: 12, bottom: 0 } },
        elements: { point: { radius: 0 }, line: { tension: 0, fill: false } },
        plugins: {
          legend: { display: false }, tooltip: { enabled: false },
          frame: { width: 2, topColor: '#000', rightColor: '#000' },
        } as any,
        scales: {
          ...xAxes(28, [13, 6.6], 6.5),
          y: {
            type: 'linear', min: -3, max: 3,
            afterFit: (s: any) => { s.width = 92; },
            ticks: {
              stepSize: 1, padding: 3, autoSkip: false, callback: (v: any) => Number(v).toFixed(1),
              font: { family: FONT, size: 13 }, color: '#111',
            },
            grid: { color: '#000', lineWidth: 1.5, drawTicks: true, tickLength: 11, tickColor: 'rgba(0,0,0,0)' },
            border: { display: true, color: '#000', width: 2, dash: [17, 14.5] },
          },
        } as any,
      },
    });
    return () => { top.destroy(); bot.destroy(); };
  }, []);

  const abs = (s: React.CSSProperties): React.CSSProperties => ({ position: 'absolute', ...s });
  const pink = '#ff3388';

  const lineSample = (it: LegendItem, w: number) => (
    <svg width={w} height={8} style={{ display: 'block' }}>
      <line x1={0} y1={4} x2={w} y2={4} stroke={it.color}
        strokeWidth={it.kind === 'plan' ? 1.5 : it.kind === 'avg' ? 2.5 : 3}
        strokeDasharray={it.kind === 'deep' ? '3 3' : undefined} />
    </svg>
  );

  const bridge = (text: string, tx: number, ty: number, lx: number, ly: number, lw: number) => (
    <React.Fragment key={text}>
      <div style={abs({ left: tx, top: ty, fontSize: 12, lineHeight: '14px', whiteSpace: 'nowrap', color: '#000' })}>{text}</div>
      <div style={abs({ left: lx, top: ly, width: lw, height: 6, borderTop: '1px solid #000', borderLeft: '1px solid #000' })} />
    </React.Fragment>
  );

  return (
    <div style={abs({ left: 0, top: 0, width: 1292, height: 731, overflow: 'hidden', background: '#fff', fontFamily: FONT, color: '#000' })}>
      {/* outer frame */}
      <div style={abs({ left: 6, top: 9, width: 1278, height: 730, boxSizing: 'border-box', border: '2px solid #ffc68c', borderBottom: 'none' })} />

      <canvas ref={topRef} width={1292} height={520} style={abs({ left: 0, top: 30 })} />
      <canvas ref={botRef} width={1292} height={158} style={abs({ left: 0, top: 573 })} />

      {/* title */}
      <div style={abs({ left: 6, top: 9, width: 244, height: 25, boxSizing: 'border-box', background: '#ffff99', border: '2px solid #f8a040', fontSize: 18, lineHeight: '21px', paddingLeft: 19, letterSpacing: 0.6, whiteSpace: 'nowrap' })}>
        九頭竜川(-0.2k～15.2k)
      </div>

      {/* y axis title (top chart) */}
      <div style={abs({ left: 38, top: 34, fontSize: 10, lineHeight: '10px' })}>標</div>
      <div style={abs({ left: 38, top: 62, fontSize: 10, lineHeight: '10px' })}>高</div>
      <div style={abs({ left: 25, top: 72, fontSize: 9, lineHeight: '9px', whiteSpace: 'nowrap' })}>(TP.m)</div>

      {/* x axis title */}
      <div style={abs({ left: 1140, top: 543, width: 132, textAlign: 'right', fontSize: 12, lineHeight: '16px' })}>追加距離(km)</div>

      {/* bridges */}
      <div style={abs({ left: 285, top: 283, width: 46, height: 16, borderTop: '1px solid #000', borderLeft: '1px solid #000' })} />
      <div style={abs({ left: 291, top: 284, fontSize: 12, lineHeight: '14px' })}>新保橋</div>
      {bridge('三国大橋', 535, 83, 533, 97, 50)}
      {bridge('布施田橋', 870, 114, 868, 128, 50)}
      {bridge('水管橋', 1122, 114, 1115, 128, 45)}
      {bridge('天菅生橋', 1163, 142, 1160, 156, 50)}
      <div style={abs({ left: 1228, top: 75, fontSize: 12, lineHeight: '14px' })}>日野川</div>

      {/* top legend */}
      <div style={abs({ left: 108, top: 62, width: 370, height: 196, boxSizing: 'border-box', background: '#fff', border: '1px solid #000', boxShadow: '2px 2px 0 #000' })}>
        {topLegend.map((it, k) => {
          const row = Math.floor(k / 2);
          const col = k % 2;
          return (
            <div key={k} style={abs({ left: col === 0 ? 11 : 196, top: 1 + row * 17.7, height: 17, display: 'flex', alignItems: 'center', whiteSpace: 'nowrap', fontSize: 12 })}>
              {lineSample(it, 25)}
              <span style={{ marginLeft: 3 }}>{it.a}</span>
              {it.b && <span style={{ marginLeft: 8 }}>{it.b}</span>}
            </div>
          );
        })}
      </div>

      {/* bottom chart y-axis title */}
      <div style={abs({ left: 16 - 60, top: 627 - 6, width: 120, height: 12, textAlign: 'center', fontSize: 9.8, lineHeight: '12px', whiteSpace: 'nowrap', transform: 'rotate(-90deg)' })}>←低下　｜　上昇→</div>
      <div style={abs({ left: 28 - 60, top: 640 - 6, width: 120, height: 12, textAlign: 'center', fontSize: 8.2, lineHeight: '12px', whiteSpace: 'nowrap', transform: 'rotate(-90deg)' })}>S56からの平均河床高変動量(m)</div>

      {/* annotations */}
      <div style={abs({ left: 95, top: 560, fontSize: 12, lineHeight: '15px', color: pink, whiteSpace: 'nowrap' })}>潮位の影響を受け、平成元年以降に堆積傾向が見られる</div>
      <svg width={1292} height={731} style={abs({ left: 0, top: 0, pointerEvents: 'none' })}>
        <rect x={136} y={595} width={119} height={48} rx={8} fill="none" stroke="#3b4bc8" strokeWidth={1.5} strokeDasharray="5 3" />
        <rect x={295} y={597} width={86} height={55} rx={8} fill="none" stroke="#3b4bc8" strokeWidth={1.5} strokeDasharray="5 3" />
        <polygon points="222.5,587 235,595 229,595 229,611 216,611 216,595 210,595" fill="#f5276c" />
        <polygon points="372.5,599 383,607 378,607 378,625 367,625 367,607 362,607" fill="#f5276c" />
      </svg>
      <div style={abs({ left: 388, top: 599, fontSize: 12.3, lineHeight: '16px', color: pink, whiteSpace: 'nowrap', background: '#fff' })}>
        河道改修(低水路拡幅)により、河積が増え<br />た反面、川幅は変わらず、平均河床高が上昇
      </div>

      {/* bottom legend */}
      <div style={abs({ left: 333, top: 576, width: 895, height: 18, boxSizing: 'border-box', background: '#fff', border: '1px solid #000', boxShadow: '2px 2px 0 #000', display: 'flex', alignItems: 'center', paddingLeft: 16, gap: 16, whiteSpace: 'nowrap', fontSize: 11 })}>
        {diffNames.map((n, k) => (
          <div key={n} style={{ display: 'flex', alignItems: 'center' }}>
            <svg width={18} height={6} style={{ display: 'block' }}>
              <line x1={0} y1={3} x2={18} y2={3} stroke={diffColors[k]} strokeWidth={1.5} />
            </svg>
            <span style={{ marginLeft: 2, lineHeight: '14px' }}>{n}</span>
          </div>
        ))}
      </div>
    </div>
  );
}
